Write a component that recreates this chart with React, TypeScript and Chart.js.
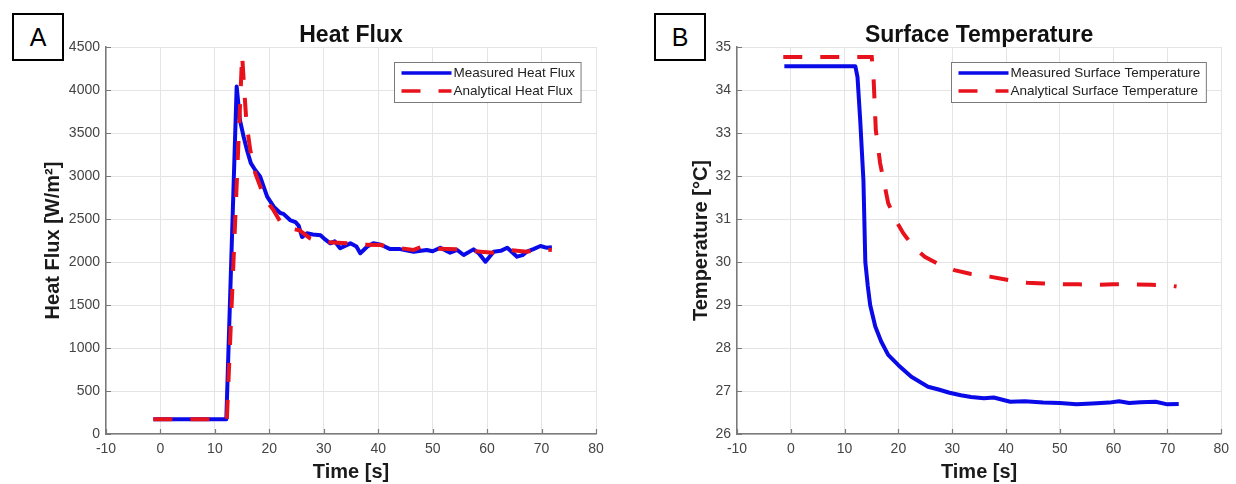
import React, { useEffect, useRef } from 'react';
import { Chart, registerables } from 'chart.js';

Chart.register(...registerables);

// ---------- data ----------
const hfMeasuredTime = [-1.3, 12.1, 14.0, 14.6, 15.3, 15.9, 16.6, 17.4, 18.3, 19.6, 20.8, 22.0, 22.6, 23.8, 24.8, 25.4, 26.0, 26.9, 28.0, 29.4, 30.3, 31.2, 32.0, 33.0, 34.0, 34.9, 36.0, 36.7, 38.0, 39.1, 40.5, 42.2, 44.0, 46.5, 48.9, 50.0, 51.4, 53.2, 54.5, 55.7, 57.5, 58.5, 59.7, 61.2, 62.5, 63.7, 65.5, 66.5, 67.3, 68.5, 69.8, 71.0, 71.9];
const hfMeasured = [171, 171, 4040, 3650, 3450, 3300, 3150, 3070, 2995, 2760, 2643, 2570, 2560, 2488, 2465, 2420, 2290, 2334, 2320, 2310, 2260, 2217, 2240, 2160, 2190, 2217, 2180, 2101, 2180, 2217, 2200, 2150, 2150, 2120, 2140, 2125, 2166, 2108, 2140, 2081, 2147, 2100, 2003, 2120, 2130, 2166, 2062, 2080, 2120, 2150, 2186, 2165, 2171];

const hfAnalyticalTime = [-1.3, 12.2, 15.0, 15.4, 15.8, 16.5, 17.4, 18.5, 19.6, 20.8, 22.0, 23.5, 25.5, 27.5, 29.4, 31.0, 34.2, 37.0, 40.4, 43.0, 46.5, 48.0, 51.0, 54.5, 58.8, 61.2, 64.0, 67.3, 70.0, 71.9];
const hfAnalytical = [171, 171, 4407, 4000, 3616, 3300, 3035, 2850, 2700, 2600, 2469, 2392, 2370, 2275, 2236, 2230, 2217, 2200, 2197, 2170, 2140, 2178, 2155, 2147, 2120, 2108, 2140, 2120, 2150, 2140];

const tempMeasuredTime = [-1.2, 12.0, 12.4, 12.9, 13.5, 13.85, 14.3, 14.75, 15.7, 16.8, 18.1, 20.0, 22.4, 25.5, 27.3, 29.5, 31.6, 33.5, 35.9, 37.7, 40.8, 43.5, 46.9, 50.0, 53.1, 56.0, 59.2, 61.0, 62.9, 65.0, 67.8, 70.0, 72.1];
const tempMeasured = [34.55, 34.55, 34.3, 33.3, 31.9, 30.0, 29.45, 29.0, 28.5, 28.15, 27.84, 27.6, 27.33, 27.1, 27.04, 26.96, 26.9, 26.86, 26.83, 26.85, 26.75, 26.76, 26.73, 26.72, 26.69, 26.71, 26.73, 26.76, 26.72, 26.74, 26.75, 26.69, 26.7];

const tempAnalyticalTime = [-1.4, 15.05, 15.4, 15.8, 16.6, 18.1, 19.6, 20.9, 22.8, 24.9, 27.5, 30.4, 33.5, 37.0, 40.5, 43.9, 47.0, 50.5, 53.5, 56.7, 60.0, 63.5, 67.0, 70.0, 71.7];
const tempAnalytical = [34.77, 34.77, 34.23, 33.07, 32.3, 31.37, 30.95, 30.67, 30.35, 30.12, 29.95, 29.81, 29.72, 29.66, 29.58, 29.52, 29.5, 29.48, 29.48, 29.47, 29.48, 29.48, 29.47, 29.46, 29.43];

const timeMin = -10;
const timeMax = 80;
const timeStep = 10;

const fluxMin = 0;
const fluxMax = 4500;
const fluxStep = 500;

const tempMin = 26;
const tempMax = 35;
const tempStep = 1;

const heatLegend = ['Measured Heat Flux', 'Analytical Heat Flux'];
const tempLegend = ['Measured Surface Temperature', 'Analytical Surface Temperature'];

// ---------- styling ----------
const FONT = '"Liberation Sans", Arial, Helvetica, sans-serif';
const BLUE = '#0a0ae8';
const RED = '#e8121c';
const DASH = [19, 18];

const toPoints = (xs: number[], ys: number[]) => xs.map((x, i) => ({ x, y: ys[i] }));

function decorPlugin(title: string, labels: string[]) {
  return {
    id: 'decor',
    afterDraw(chart: any) {
      const { ctx, chartArea: ca, scales } = chart;
      ctx.save();
      // inner tick marks
      ctx.strokeStyle = '#7a7a7a';
      ctx.lineWidth = 1.2;
      ctx.beginPath();
      scales.x.ticks.forEach((t: any) => {
        const px = Math.round(scales.x.getPixelForValue(t.value)) + 0.5;
        ctx.moveTo(px, ca.bottom);
        ctx.lineTo(px, ca.bottom - 5);
      });
      scales.y.ticks.forEach((t: any) => {
        const py = Math.round(scales.y.getPixelForValue(t.value)) + 0.5;
        ctx.moveTo(ca.left, py);
        ctx.lineTo(ca.left + 5, py);
      });
      ctx.stroke();

      // title
      ctx.fillStyle = '#111';
      ctx.font = `bold 23px ${FONT}`;
      ctx.textAlign = 'center';
      ctx.textBaseline = 'alphabetic';
      ctx.fillText(title, (ca.left + ca.right) / 2, 42);

      // legend
      ctx.font = `13.5px ${FONT}`;
      const tw = Math.max(...labels.map((l) => ctx.measureText(l).width));
      const boxW = tw + 59 + 6;
      const boxH = 40;
      const bx = Math.round(ca.right - 15 - boxW) + 0.5;
      const by = Math.round(ca.top + 15) + 0.5;
      ctx.fillStyle = '#fff';
      ctx.fillRect(bx, by, boxW, boxH);
      ctx.strokeStyle = '#7a7a7a';
      ctx.lineWidth = 1;
      ctx.strokeRect(bx, by, boxW, boxH);
      const rows = [by + 10.5, by + 28.5];
      const colors = [BLUE, RED];
      labels.forEach((lab, i) => {
        ctx.strokeStyle = colors[i];
        ctx.lineWidth = 3.5;
        ctx.setLineDash(i === 1 ? DASH : []);
        ctx.lineCap = 'butt';
        ctx.beginPath();
        ctx.moveTo(bx + 7, rows[i]);
        ctx.lineTo(bx + 57, rows[i]);
        ctx.stroke();
        ctx.setLineDash([]);
        ctx.fillStyle = '#222';
        ctx.textAlign = 'left';
        ctx.textBaseline = 'middle';
        ctx.fillText(lab, bx + 59, rows[i] + 0.5);
      });
      ctx.restore();
    },
  };
}

function makeConfig(opts: {
  measured: { x: number; y: number }[];
  analytical: { x: number; y: number }[];
  yMin: number;
  yMax: number;
  yStep: number;
  yTitle: string;
  yWidth: number;
  yTitlePad: number;
  rightPad: number;
  title: string;
  labels: string[];
}): any {
  return {
    type: 'line',
    data: {
      datasets: [
        {
          label: opts.labels[1],
          data: opts.analytical,
          borderColor: RED,
          borderWidth: 4,
          borderDash: DASH,
          borderCapStyle: 'butt',
          pointRadius: 0,
          tension: 0,
          fill: false,
        },
        {
          label: opts.labels[0],
          data: opts.measured,
          borderColor: BLUE,
          borderWidth: 4,
          borderJoinStyle: 'round',
          pointRadius: 0,
          tension: 0,
          fill: false,
        },
      ],
    },
    options: {
      responsive: false,
      animation: false,
      devicePixelRatio: 1,
      layout: { padding: { left: 0, top: 47, right: opts.rightPad, bottom: 0 } },
      plugins: {
        legend: { display: false },
        tooltip: { enabled: false },
        title: { display: false },
      },
      scales: {
        x: {
          type: 'linear',
          min: timeMin,
          max: timeMax,
          ticks: {
            stepSize: timeStep,
            color: '#444',
            font: { family: FONT, size: 14 },
            padding: 7,
            maxRotation: 0,
            autoSkip: false,
            callback: (v: number) => String(v),
          },
          grid: { color: '#e4e4e4', lineWidth: 1, drawTicks: false },
          border: { display: true, color: '#7a7a7a', width: 1.5 },
          title: {
            display: true,
            text: 'Time [s]',
            color: '#1a1a1a',
            font: { family: FONT, size: 20, weight: 'bold' },
            padding: { top: 0, bottom: 0 },
          },
          afterFit: (s: any) => {
            s.height = 50;
          },
        },
        y: {
          type: 'linear',
          min: opts.yMin,
          max: opts.yMax,
          ticks: {
            stepSize: opts.yStep,
            color: '#444',
            font: { family: FONT, size: 14 },
            padding: 6,
            autoSkip: false,
            callback: (v: number) => String(v),
          },
          grid: { color: '#e4e4e4', lineWidth: 1, drawTicks: false },
          border: { display: true, color: '#7a7a7a', width: 1.5 },
          title: {
            display: true,
            text: opts.yTitle,
            color: '#1a1a1a',
            font: { family: FONT, size: 20, weight: 'bold' },
            padding: { top: opts.yTitlePad, bottom: 0 },
          },
          afterFit: (s: any) => {
            s.width = opts.yWidth;
          },
        },
      },
    },
    plugins: [decorPlugin(opts.title, opts.labels)],
  };
}

const letterBox = (left: number): React.CSSProperties => ({
  position: 'absolute',
  left,
  top: 13,
  width: 48,
  height: 44,
  border: '2px solid #000',
  display: 'flex',
  alignItems: 'center',
  justifyContent: 'center',
  fontFamily: FONT,
  fontSize: 25,
  color: '#000',
  background: '#fff',
});

export default function App() {
  const refA = useRef<HTMLCanvasElement | null>(null);
  const refB = useRef<HTMLCanvasElement | null>(null);

  useEffect(() => {
    const a = new Chart(
      refA.current as HTMLCanvasElement,
      makeConfig({
        measured: toPoints(hfMeasuredTime, hfMeasured),
        analytical: toPoints(hfAnalyticalTime, hfAnalytical),
        yMin: fluxMin,
        yMax: fluxMax,
        yStep: fluxStep,
        yTitle: 'Heat Flux [W/m²]',
        yWidth: 106,
        yTitlePad: 41,
        rightPad: 22,
        title: 'Heat Flux',
        labels: heatLegend,
      })
    );
    const b = new Chart(
      refB.current as HTMLCanvasElement,
      makeConfig({
        measured: toPoints(tempMeasuredTime, tempMeasured),
        analytical: toPoints(tempAnalyticalTime, tempAnalytical),
        yMin: tempMin,
        yMax: tempMax,
        yStep: tempStep,
        yTitle: 'Temperature [°C]',
        yWidth: 119,
        yTitlePad: 71,
        rightPad: 9,
        title: 'Surface Temperature',
        labels: tempLegend,
      })
    );
    return () => {
      a.destroy();
      b.destroy();
    };
  }, []);

  return (
    <div style={{ position: 'fixed', left: 0, top: 0, width: 1236, height: 484, background: '#fff', overflow: 'hidden' }}>
      <canvas ref={refA} width={618} height={484} style={{ position: 'absolute', left: 0, top: 0 }} />
      <canvas ref={refB} width={618} height={484} style={{ position: 'absolute', left: 618, top: 0 }} />
      <div style={letterBox(12)}>A</div>
      <div style={letterBox(654)}>B</div>
    </div>
  );
}
